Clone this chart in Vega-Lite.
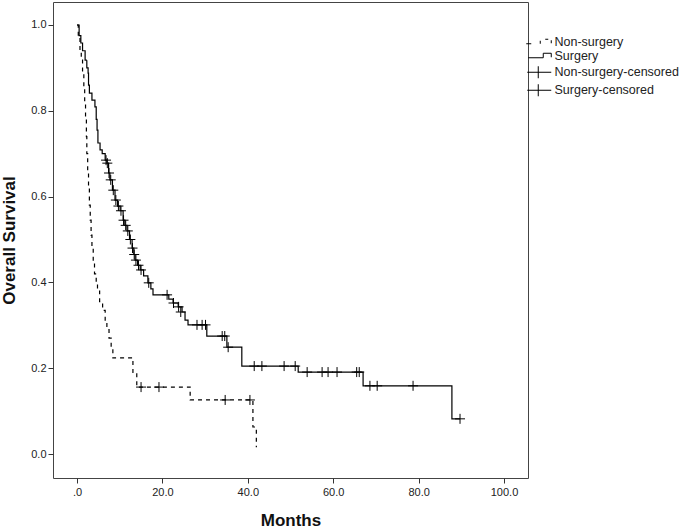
{
  "$schema": "https://vega.github.io/schema/vega-lite/v6.json",
  "width": 475,
  "height": 476,
  "autosize": {"type": "none"},
  "padding": {"left": 53, "top": 2, "right": 157, "bottom": 50},
  "background": "white",
  "config": {
    "font": "Liberation Sans",
    "view": {"stroke": "#444", "strokeWidth": 1},
    "axis": {"grid": false, "domain": false, "tickColor": "#333", "tickSize": 5, "labelColor": "#222", "labelFontSize": 11, "titleColor": "#111", "titleFontSize": 17, "titleFontWeight": "bold", "labelFont": "Liberation Sans", "titleFont": "Liberation Sans"}
  },
  "datasets": {
    "legend": [
      {"series": "Non-surgery"},
      {"series": "Surgery"},
      {"series": "Non-surgery-censored"},
      {"series": "Surgery-censored"}
    ],
    "curves": [
      {"group": "Non-surgery", "t": 0, "s": 1.0},
      {"group": "Non-surgery", "t": 0.3, "s": 0.97},
      {"group": "Non-surgery", "t": 0.7, "s": 0.94},
      {"group": "Non-surgery", "t": 1.0, "s": 0.92},
      {"group": "Non-surgery", "t": 1.3, "s": 0.89},
      {"group": "Non-surgery", "t": 1.6, "s": 0.855},
      {"group": "Non-surgery", "t": 1.8, "s": 0.82},
      {"group": "Non-surgery", "t": 2.0, "s": 0.78},
      {"group": "Non-surgery", "t": 2.2, "s": 0.74},
      {"group": "Non-surgery", "t": 2.3, "s": 0.70},
      {"group": "Non-surgery", "t": 2.5, "s": 0.66},
      {"group": "Non-surgery", "t": 2.7, "s": 0.62},
      {"group": "Non-surgery", "t": 2.9, "s": 0.58},
      {"group": "Non-surgery", "t": 3.1, "s": 0.545},
      {"group": "Non-surgery", "t": 3.3, "s": 0.51},
      {"group": "Non-surgery", "t": 3.5, "s": 0.48},
      {"group": "Non-surgery", "t": 3.8, "s": 0.45},
      {"group": "Non-surgery", "t": 4.1, "s": 0.42},
      {"group": "Non-surgery", "t": 4.5, "s": 0.40},
      {"group": "Non-surgery", "t": 4.8, "s": 0.38},
      {"group": "Non-surgery", "t": 5.3, "s": 0.355},
      {"group": "Non-surgery", "t": 6.0, "s": 0.335},
      {"group": "Non-surgery", "t": 6.6, "s": 0.31},
      {"group": "Non-surgery", "t": 7.0, "s": 0.29},
      {"group": "Non-surgery", "t": 7.5, "s": 0.27},
      {"group": "Non-surgery", "t": 8.0, "s": 0.245},
      {"group": "Non-surgery", "t": 8.4, "s": 0.224},
      {"group": "Non-surgery", "t": 13.1, "s": 0.19},
      {"group": "Non-surgery", "t": 14.0, "s": 0.156},
      {"group": "Non-surgery", "t": 26.5, "s": 0.126},
      {"group": "Non-surgery", "t": 41.2, "s": 0.063},
      {"group": "Non-surgery", "t": 42.0, "s": 0.016},
      {"group": "Surgery", "t": 0, "s": 1.0},
      {"group": "Surgery", "t": 0.5, "s": 0.975},
      {"group": "Surgery", "t": 0.9, "s": 0.958},
      {"group": "Surgery", "t": 1.3, "s": 0.94},
      {"group": "Surgery", "t": 1.9, "s": 0.918},
      {"group": "Surgery", "t": 2.3, "s": 0.90},
      {"group": "Surgery", "t": 2.6, "s": 0.888},
      {"group": "Surgery", "t": 2.7, "s": 0.86},
      {"group": "Surgery", "t": 2.9, "s": 0.841},
      {"group": "Surgery", "t": 3.5, "s": 0.825},
      {"group": "Surgery", "t": 4.2, "s": 0.809},
      {"group": "Surgery", "t": 4.5, "s": 0.78},
      {"group": "Surgery", "t": 4.7, "s": 0.755},
      {"group": "Surgery", "t": 4.9, "s": 0.725},
      {"group": "Surgery", "t": 5.4, "s": 0.709},
      {"group": "Surgery", "t": 5.9, "s": 0.70},
      {"group": "Surgery", "t": 6.6, "s": 0.685},
      {"group": "Surgery", "t": 7.0, "s": 0.678},
      {"group": "Surgery", "t": 7.4, "s": 0.655},
      {"group": "Surgery", "t": 7.7, "s": 0.639},
      {"group": "Surgery", "t": 8.3, "s": 0.615},
      {"group": "Surgery", "t": 8.9, "s": 0.592},
      {"group": "Surgery", "t": 9.5, "s": 0.578},
      {"group": "Surgery", "t": 10.1, "s": 0.567},
      {"group": "Surgery", "t": 10.8, "s": 0.545},
      {"group": "Surgery", "t": 11.2, "s": 0.533},
      {"group": "Surgery", "t": 11.7, "s": 0.52},
      {"group": "Surgery", "t": 12.3, "s": 0.50},
      {"group": "Surgery", "t": 12.9, "s": 0.48},
      {"group": "Surgery", "t": 13.3, "s": 0.465},
      {"group": "Surgery", "t": 13.6, "s": 0.452},
      {"group": "Surgery", "t": 14.2, "s": 0.44},
      {"group": "Surgery", "t": 14.8, "s": 0.429},
      {"group": "Surgery", "t": 15.6, "s": 0.415},
      {"group": "Surgery", "t": 16.6, "s": 0.399},
      {"group": "Surgery", "t": 17.3, "s": 0.385},
      {"group": "Surgery", "t": 17.8, "s": 0.371},
      {"group": "Surgery", "t": 21.5, "s": 0.361},
      {"group": "Surgery", "t": 22.5, "s": 0.352},
      {"group": "Surgery", "t": 23.7, "s": 0.343},
      {"group": "Surgery", "t": 24.6, "s": 0.331},
      {"group": "Surgery", "t": 25.3, "s": 0.312},
      {"group": "Surgery", "t": 26.0, "s": 0.301},
      {"group": "Surgery", "t": 30.4, "s": 0.275},
      {"group": "Surgery", "t": 35.1, "s": 0.249},
      {"group": "Surgery", "t": 38.6, "s": 0.205},
      {"group": "Surgery", "t": 51.8, "s": 0.191},
      {"group": "Surgery", "t": 67.0, "s": 0.159},
      {"group": "Surgery", "t": 87.8, "s": 0.082},
      {"group": "Surgery", "t": 89.7, "s": 0.082}
    ],
    "censored": [
      {"series": "Non-surgery-censored", "t": 15.0, "s": 0.156},
      {"series": "Non-surgery-censored", "t": 19.2, "s": 0.156},
      {"series": "Non-surgery-censored", "t": 34.7, "s": 0.126},
      {"series": "Non-surgery-censored", "t": 40.5, "s": 0.126},
      {"series": "Surgery-censored", "t": 6.8, "s": 0.685},
      {"series": "Surgery-censored", "t": 7.1, "s": 0.678},
      {"series": "Surgery-censored", "t": 7.5, "s": 0.655},
      {"series": "Surgery-censored", "t": 7.9, "s": 0.639},
      {"series": "Surgery-censored", "t": 8.5, "s": 0.615},
      {"series": "Surgery-censored", "t": 9.1, "s": 0.592},
      {"series": "Surgery-censored", "t": 9.7, "s": 0.578},
      {"series": "Surgery-censored", "t": 10.3, "s": 0.567},
      {"series": "Surgery-censored", "t": 10.9, "s": 0.545},
      {"series": "Surgery-censored", "t": 11.4, "s": 0.533},
      {"series": "Surgery-censored", "t": 11.9, "s": 0.52},
      {"series": "Surgery-censored", "t": 12.5, "s": 0.50},
      {"series": "Surgery-censored", "t": 13.0, "s": 0.48},
      {"series": "Surgery-censored", "t": 13.4, "s": 0.465},
      {"series": "Surgery-censored", "t": 13.8, "s": 0.452},
      {"series": "Surgery-censored", "t": 14.4, "s": 0.44},
      {"series": "Surgery-censored", "t": 15.0, "s": 0.429},
      {"series": "Surgery-censored", "t": 16.8, "s": 0.399},
      {"series": "Surgery-censored", "t": 21.1, "s": 0.371},
      {"series": "Surgery-censored", "t": 22.6, "s": 0.352},
      {"series": "Surgery-censored", "t": 23.8, "s": 0.343},
      {"series": "Surgery-censored", "t": 24.3, "s": 0.331},
      {"series": "Surgery-censored", "t": 28.1, "s": 0.301},
      {"series": "Surgery-censored", "t": 29.3, "s": 0.301},
      {"series": "Surgery-censored", "t": 30.1, "s": 0.301},
      {"series": "Surgery-censored", "t": 34.0, "s": 0.275},
      {"series": "Surgery-censored", "t": 34.6, "s": 0.275},
      {"series": "Surgery-censored", "t": 35.4, "s": 0.249},
      {"series": "Surgery-censored", "t": 41.5, "s": 0.205},
      {"series": "Surgery-censored", "t": 43.3, "s": 0.205},
      {"series": "Surgery-censored", "t": 48.5, "s": 0.205},
      {"series": "Surgery-censored", "t": 51.1, "s": 0.205},
      {"series": "Surgery-censored", "t": 53.9, "s": 0.191},
      {"series": "Surgery-censored", "t": 57.4, "s": 0.191},
      {"series": "Surgery-censored", "t": 58.8, "s": 0.191},
      {"series": "Surgery-censored", "t": 60.9, "s": 0.191},
      {"series": "Surgery-censored", "t": 65.5, "s": 0.191},
      {"series": "Surgery-censored", "t": 66.1, "s": 0.191},
      {"series": "Surgery-censored", "t": 68.6, "s": 0.159},
      {"series": "Surgery-censored", "t": 70.3, "s": 0.159},
      {"series": "Surgery-censored", "t": 78.7, "s": 0.159},
      {"series": "Surgery-censored", "t": 89.7, "s": 0.082}
    ]
  },
  "layer": [
    {
      "data": {"name": "curves"},
      "mark": {"type": "line", "interpolate": "step-after", "color": "black", "strokeWidth": 1.2},
      "encoding": {
        "x": {"field": "t", "type": "quantitative", "scale": {"domain": [-5.62, 105.62], "nice": false, "zero": false},
          "axis": {"title": "Months", "values": [0, 20, 40, 60, 80, 100], "labelExpr": "datum.value == 0 ? '.0' : format(datum.value, '.1f')", "labelPadding": 3, "titlePadding": 15}},
        "y": {"field": "s", "type": "quantitative", "scale": {"domain": [-0.0559, 1.0536], "nice": false, "zero": false},
          "axis": {"title": "Overall Survival", "values": [0, 0.2, 0.4, 0.6, 0.8, 1.0], "format": ".1f", "labelPadding": 2, "titlePadding": 12}},
        "detail": {"field": "group"},
        "strokeDash": {"field": "group", "type": "nominal", "scale": {"domain": ["Non-surgery", "Surgery"], "range": [[4, 4], [1, 0]]}, "legend": null}
      }
    },
    {
      "data": {"name": "censored"},
      "mark": {"type": "point", "filled": false, "color": "black", "strokeWidth": 1, "size": 100, "opacity": 1, "shape": "M-1,0H1M0,-1V1"},
      "encoding": {
        "x": {"field": "t", "type": "quantitative"},
        "y": {"field": "s", "type": "quantitative"},
        "detail": {"field": "series"}
      }
    },
    {
      "data": {"name": "legend"},
      "mark": {"type": "point", "filled": false, "color": "black", "strokeWidth": 1, "size": 100, "opacity": 0},
      "encoding": {
        "shape": {"field": "series", "type": "nominal",
          "scale": {"domain": ["Non-surgery", "Surgery", "Non-surgery-censored", "Surgery-censored"],
            "range": ["M-4,0.3H-3M-1.2,0.3V-0.3M-0.2,-0.6H0.4M1,-0.4V0.2", "M-3.6,0.3H-0.6V-0.6H1V0.2", "M-3.8,0H1M-1.6,-1.2V1.2", "M-3.8,0H1M-1.6,-1.2V1.2"]},
          "legend": {"title": null, "orient": "none", "legendX": 487, "legendY": 34, "padding": 0, "labelFontSize": 12.5, "labelColor": "#222", "labelFont": "Liberation Sans", "labelOffset": 2, "rowPadding": 1, "symbolStrokeColor": "black", "symbolStrokeWidth": 1, "symbolOpacity": 1}
        }
      }
    }
  ]
}
